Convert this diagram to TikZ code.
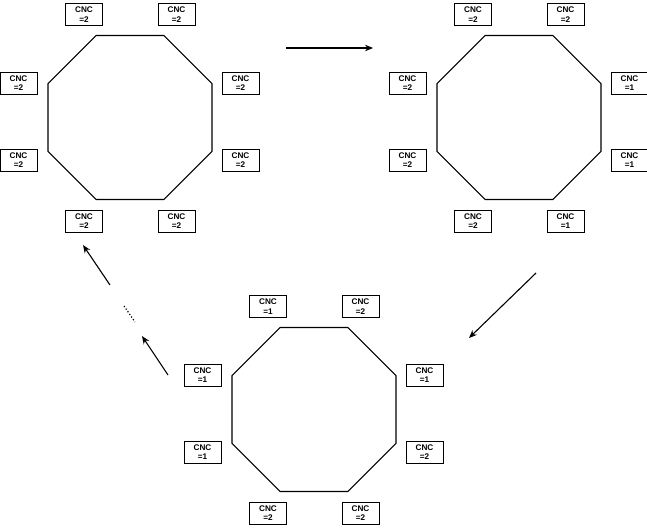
\documentclass[tikz,border=0pt]{standalone}
\usepackage{fontspec}
\setmainfont{Liberation Sans}
\usetikzlibrary{shapes.geometric,arrows.meta}
\tikzset{
  cnc/.style={draw=black, line width=0.9pt, minimum width=37pt, minimum height=22pt,
    inner sep=0pt, align=center, font=\fontsize{8.2}{9.6}\selectfont\bfseries},
  octo/.style={draw=black, line width=1.1pt, regular polygon, regular polygon sides=8,
    minimum size=177.5pt, inner sep=0pt, outer sep=0pt},
  flow/.style={line width=1.1pt, -{Stealth[length=8pt,width=6.5pt]}},
  dots/.style={line width=1.2pt, dotted}
}
% #1 prefix, #2 top-left, #3 top-right, #4 right-upper, #5 right-lower,
% #6 bottom-right, #7 bottom-left, #8 left-lower, #9 left-upper
\newcommand\octgroup[9]{%
  \node[octo] (#1oct) at (130,117.5) {};
  \node[cnc] (#1tl) at (84,14.5) {CNC\\=#2};
  \node[cnc] (#1tr) at (176.5,14.5) {CNC\\=#3};
  \node[cnc] (#1ru) at (240.5,83) {CNC\\=#4};
  \node[cnc] (#1rl) at (240.5,160) {CNC\\=#5};
  \node[cnc] (#1br) at (176.5,221) {CNC\\=#6};
  \node[cnc] (#1bl) at (84,221) {CNC\\=#7};
  \node[cnc] (#1ll) at (18.5,160) {CNC\\=#8};
  \node[cnc] (#1lu) at (18.5,83) {CNC\\=#9};
}
\begin{document}
\begin{tikzpicture}[x=1pt,y=-1pt]
  \useasboundingbox (0,0) rectangle (647,527);
  \begin{scope}
    \octgroup{a}{2}{2}{2}{2}{2}{2}{2}{2}
  \end{scope}
  \begin{scope}[shift={(389,0)}]
    \octgroup{b}{2}{2}{1}{1}{1}{2}{2}{2}
  \end{scope}
  \begin{scope}[shift={(184,292)}]
    \octgroup{c}{1}{2}{1}{2}{2}{2}{1}{1}
  \end{scope}
  \coordinate (a1s) at (286,48);
  \coordinate (a1e) at (373,48);
  \coordinate (a2s) at (536,273);
  \coordinate (a2e) at (469,338);
  \coordinate (a3s) at (168,375);
  \coordinate (a3e) at (142,336);
  \coordinate (d1) at (124,306);
  \coordinate (d2) at (135,322);
  \coordinate (a4s) at (110,285);
  \coordinate (a4e) at (83,245);
  \draw[flow] (a1s) -- (a1e);
  \draw[flow] (a2s) -- (a2e);
  \draw[flow] (a3s) -- (a3e);
  \draw[dots] (d1) -- (d2);
  \draw[flow] (a4s) -- (a4e);
\end{tikzpicture}
\end{document}
